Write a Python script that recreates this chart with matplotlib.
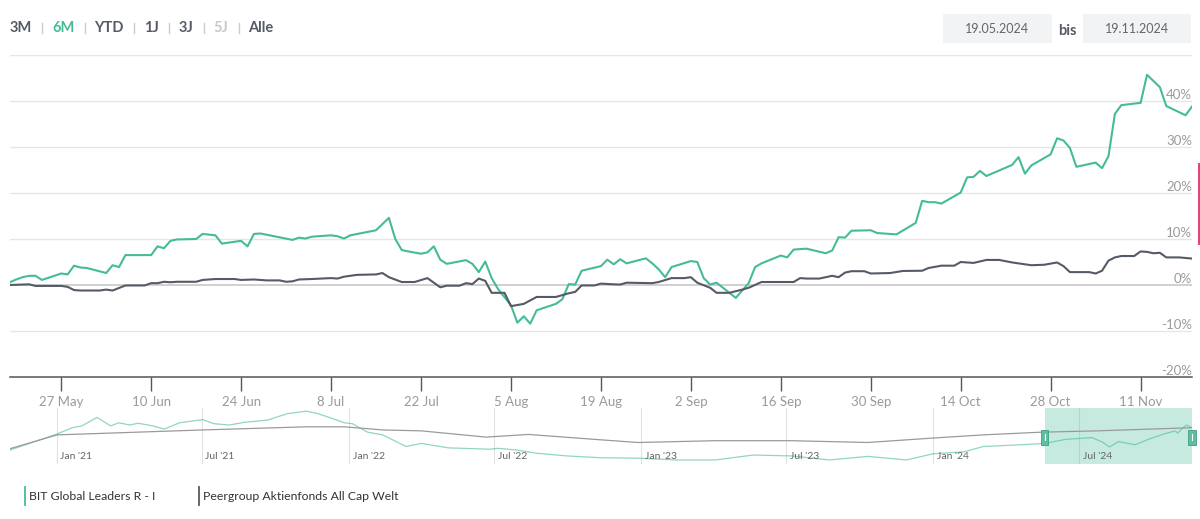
import matplotlib
matplotlib.use("Agg")
import matplotlib.pyplot as plt
from matplotlib.patches import Rectangle
from matplotlib.lines import Line2D
import pandas as pd

plt.rcParams['font.family'] = ['Lato', 'DejaVu Sans']

GREEN = '#45bb9a'
GRAY = '#555b66'

# --- data: 6 month performance in % ---
fund_dates = ["2024-05-19", "2024-05-20", "2024-05-21", "2024-05-22", "2024-05-23", "2024-05-24",
              "2024-05-27", "2024-05-28", "2024-05-29", "2024-05-30", "2024-05-31", "2024-06-03",
              "2024-06-04", "2024-06-05", "2024-06-06", "2024-06-10", "2024-06-11", "2024-06-12",
              "2024-06-13", "2024-06-14", "2024-06-17", "2024-06-18", "2024-06-20", "2024-06-21",
              "2024-06-24", "2024-06-25", "2024-06-26", "2024-06-27", "2024-07-02", "2024-07-03",
              "2024-07-04", "2024-07-05", "2024-07-08", "2024-07-09", "2024-07-10", "2024-07-11",
              "2024-07-15", "2024-07-17", "2024-07-18", "2024-07-19", "2024-07-20", "2024-07-22",
              "2024-07-23", "2024-07-24", "2024-07-25", "2024-07-26", "2024-07-29", "2024-07-30",
              "2024-07-31", "2024-08-01", "2024-08-02", "2024-08-03", "2024-08-05", "2024-08-06",
              "2024-08-07", "2024-08-08", "2024-08-09", "2024-08-12", "2024-08-13", "2024-08-14",
              "2024-08-15", "2024-08-16", "2024-08-19", "2024-08-20", "2024-08-21", "2024-08-22",
              "2024-08-23", "2024-08-26", "2024-08-27", "2024-08-28", "2024-08-29", "2024-08-30",
              "2024-09-02", "2024-09-03", "2024-09-04", "2024-09-05", "2024-09-06", "2024-09-09",
              "2024-09-11", "2024-09-12", "2024-09-13", "2024-09-16", "2024-09-17", "2024-09-18",
              "2024-09-20", "2024-09-23", "2024-09-24", "2024-09-25", "2024-09-26", "2024-09-27",
              "2024-09-30", "2024-10-01", "2024-10-04", "2024-10-07", "2024-10-08", "2024-10-09",
              "2024-10-10", "2024-10-11", "2024-10-14", "2024-10-15", "2024-10-16", "2024-10-17",
              "2024-10-18", "2024-10-22", "2024-10-23", "2024-10-24", "2024-10-25", "2024-10-28",
              "2024-10-29", "2024-10-30", "2024-10-31", "2024-11-01", "2024-11-04", "2024-11-05",
              "2024-11-06", "2024-11-07", "2024-11-08", "2024-11-11", "2024-11-12", "2024-11-14",
              "2024-11-15", "2024-11-18", "2024-11-19"]
fund_vals = [0.6, 1.2, 1.7, 2.0, 2.0, 1.1, 2.5, 2.3, 4.2, 3.8, 3.7, 2.6, 4.3, 3.9, 6.5, 6.5, 8.4, 8.0,
             9.6, 9.9, 10.0, 11.1, 10.8, 9.0, 9.6, 8.4, 11.1, 11.2, 9.8, 10.3, 10.1, 10.5, 10.8, 10.6,
             10.1, 10.8, 11.9, 14.6, 10.0, 7.6, 7.3, 6.8, 7.1, 8.4, 5.5, 4.6, 5.4, 4.6, 2.8, 5.1, 1.5,
             -0.9, -4.4, -8.2, -6.8, -8.4, -5.5, -4.1, -3.1, 0.2, 0.1, 3.1, 4.1, 5.5, 4.5, 5.6, 4.7,
             5.8, 4.7, 3.4, 1.7, 3.9, 5.2, 5.0, 1.5, 0.1, 0.5, -2.8, 0.4, 3.9, 4.7, 6.4, 6.0, 7.7, 7.9,
             6.9, 7.5, 10.4, 10.3, 11.8, 11.9, 11.3, 11.0, 13.5, 18.3, 18.0, 18.0, 17.7, 20.1, 23.4,
             23.5, 24.8, 23.7, 26.1, 27.8, 24.2, 26.0, 28.4, 31.9, 31.4, 29.8, 25.7, 26.6, 25.4, 28.0,
             37.2, 39.1, 39.6, 45.7, 43.0, 38.9, 36.9, 38.8]

peer_dates = ["2024-05-19", "2024-05-21", "2024-05-22", "2024-05-23", "2024-05-27", "2024-05-28",
              "2024-05-29", "2024-05-30", "2024-06-02", "2024-06-03", "2024-06-04", "2024-06-06",
              "2024-06-09", "2024-06-10", "2024-06-11", "2024-06-12", "2024-06-13", "2024-06-14",
              "2024-06-17", "2024-06-18", "2024-06-20", "2024-06-23", "2024-06-24", "2024-06-26",
              "2024-06-28", "2024-06-30", "2024-07-01", "2024-07-02", "2024-07-03", "2024-07-05",
              "2024-07-08", "2024-07-09", "2024-07-10", "2024-07-12", "2024-07-15", "2024-07-16",
              "2024-07-17", "2024-07-19", "2024-07-21", "2024-07-23", "2024-07-25", "2024-07-26",
              "2024-07-28", "2024-07-29", "2024-07-30", "2024-07-31", "2024-08-01", "2024-08-02",
              "2024-08-04", "2024-08-05", "2024-08-07", "2024-08-09", "2024-08-12", "2024-08-14",
              "2024-08-15", "2024-08-16", "2024-08-18", "2024-08-19", "2024-08-21", "2024-08-22",
              "2024-08-23", "2024-08-27", "2024-08-28", "2024-08-30", "2024-09-01", "2024-09-02",
              "2024-09-03", "2024-09-05", "2024-09-06", "2024-09-08", "2024-09-10", "2024-09-11",
              "2024-09-13", "2024-09-16", "2024-09-18", "2024-09-19", "2024-09-20", "2024-09-22",
              "2024-09-24", "2024-09-25", "2024-09-26", "2024-09-27", "2024-09-29", "2024-09-30",
              "2024-10-03", "2024-10-05", "2024-10-08", "2024-10-09", "2024-10-11", "2024-10-13",
              "2024-10-14", "2024-10-16", "2024-10-18", "2024-10-20", "2024-10-22", "2024-10-25",
              "2024-10-27", "2024-10-29", "2024-10-30", "2024-10-31", "2024-11-03", "2024-11-04",
              "2024-11-05", "2024-11-06", "2024-11-07", "2024-11-08", "2024-11-10", "2024-11-11",
              "2024-11-12", "2024-11-13", "2024-11-14", "2024-11-15", "2024-11-17", "2024-11-19"]
peer_vals = [0.0, 0.1, 0.15, -0.2, -0.2, -0.4, -1.1, -1.2, -1.2, -1.0, -1.2, -0.1, -0.1, 0.4, 0.4,
             0.7, 0.6, 0.7, 0.7, 1.1, 1.3, 1.3, 1.1, 1.2, 1.0, 1.0, 0.7, 0.8, 1.2, 1.3, 1.5, 1.4, 1.8,
             2.2, 2.3, 2.6, 1.7, 0.65, 0.65, 1.5, -0.5, -0.15, -0.15, 0.4, 0.2, 1.4, 0.9, -1.7, -1.7,
             -4.6, -4.1, -2.6, -2.6, -1.8, -1.5, -0.1, -0.1, 0.3, 0.15, 0.1, 0.5, 0.4, 0.65, 1.5, 1.5,
             1.7, 0.5, -0.6, -1.7, -1.7, -1.0, -0.6, 0.65, 0.65, 0.65, 1.5, 1.4, 1.4, 2.0, 1.7, 2.7,
             3.0, 3.0, 2.5, 2.6, 3.05, 3.1, 3.7, 4.2, 4.2, 5.0, 4.8, 5.45, 5.45, 4.9, 4.3, 4.4, 4.9,
             4.1, 2.8, 2.8, 2.5, 3.1, 5.3, 6.0, 6.3, 6.3, 7.3, 7.2, 6.9, 7.0, 6.0, 6.0, 5.75]

# navigator (long history, relative level)
nav_fund_dates = ["2020-11-03", "2021-01-01", "2021-01-20", "2021-02-01", "2021-02-20", "2021-03-09",
                  "2021-03-19", "2021-04-02", "2021-04-12", "2021-05-01", "2021-05-15", "2021-06-03",
                  "2021-07-02", "2021-07-16", "2021-08-04", "2021-08-23", "2021-09-21", "2021-10-15",
                  "2021-11-08", "2021-11-22", "2021-12-07", "2021-12-26", "2022-01-05", "2022-01-24",
                  "2022-02-12", "2022-03-13", "2022-04-01", "2022-05-05", "2022-06-26", "2022-07-06",
                  "2022-07-30", "2022-08-23", "2022-09-30", "2022-11-11", "2022-12-28", "2023-02-14",
                  "2023-04-03", "2023-05-21", "2023-07-08", "2023-08-24", "2023-10-11", "2023-11-28",
                  "2024-01-01", "2024-02-08", "2024-03-03", "2024-04-20", "2024-05-19", "2024-06-14",
                  "2024-07-17", "2024-07-31", "2024-08-08", "2024-08-19", "2024-09-09", "2024-09-27",
                  "2024-10-15", "2024-10-29", "2024-11-01", "2024-11-08", "2024-11-12", "2024-11-19"]
nav_fund_vals = [13, 49, 63, 67, 86, 67, 74, 69, 73, 67, 60, 74, 81, 72, 69, 75, 80, 94, 100, 95,
                 86, 74, 72, 53, 47, 21, 28, 18, 15, 17, 13, 6, 0, -4, -5, -9, -9, 2, 0, -9,
                 -1, -9, 5, 9, 21, 25, 28, 37, 41, 30, 20, 32, 25, 38, 49, 56, 51, 63, 69, 63]
nav_peer_dates = ["2020-11-03", "2021-01-01", "2021-07-02", "2021-11-08", "2021-12-26", "2022-02-12",
                  "2022-04-01", "2022-06-21", "2022-08-13", "2022-11-11", "2022-12-28", "2023-04-03",
                  "2023-07-08", "2023-10-11", "2024-01-01", "2024-03-03", "2024-05-14", "2024-07-24",
                  "2024-11-19"]
nav_peer_vals = [16, 47, 58, 65, 65, 58, 56, 42, 48, 36, 30, 34, 34, 30, 40, 47, 53, 56, 63]

x_tick_dates = ["2024-05-27", "2024-06-10", "2024-06-24", "2024-07-08", "2024-07-22", "2024-08-05",
                "2024-08-19", "2024-09-02", "2024-09-16", "2024-09-30", "2024-10-14", "2024-10-28",
                "2024-11-11"]
x_tick_labels = ["27 May", "10 Jun", "24 Jun", "8 Jul", "22 Jul", "5 Aug", "19 Aug", "2 Sep",
                 "16 Sep", "30 Sep", "14 Oct", "28 Oct", "11 Nov"]
y_ticks = [-20, -10, 0, 10, 20, 30, 40, 50]
y_tick_labels = ["-20%", "-10%", "0%", "10%", "20%", "30%", "40%", ""]

nav_tick_dates = ["2021-01-01", "2021-07-01", "2022-01-01", "2022-07-01", "2023-01-01",
                  "2023-07-01", "2024-01-01", "2024-07-01"]
nav_tick_labels = ["Jan '21", "Jul '21", "Jan '22", "Jul '22", "Jan '23", "Jul '23", "Jan '24", "Jul '24"]

range_buttons = ["3M", "6M", "YTD", "1J", "3J", "5J", "Alle"]
range_active = "6M"
range_disabled = "5J"
date_from = "19.05.2024"
date_to = "19.11.2024"
start, end = "2024-05-19", "2024-11-19"
series_names = ["BIT Global Leaders R - I", "Peergroup Aktienfonds All Cap Welt"]

W, H = 1200, 519
fig = plt.figure(figsize=(W / 100, H / 100), dpi=100)


def fx(x):
    return x / W


def fy(y):
    return 1 - y / H


# --- main chart ---
left, right, top, bottom = 9.8, 1192, 55, 377
ax = fig.add_axes([fx(left), fy(bottom), (right - left) / W, (bottom - top) / H])
ax.set_xlim(pd.Timestamp(start), pd.Timestamp(end))
ax.set_ylim(-20, 50)
for v in y_ticks[1:]:
    ax.axhline(v, color='#c8c8c8' if v == 0 else '#e6e6e6', lw=1.2 if v == 0 else 1, zorder=0)
for s in ['top', 'left', 'right']:
    ax.spines[s].set_visible(False)
ax.spines['bottom'].set_color('#555555')
ax.spines['bottom'].set_linewidth(1.1)
ax.set_yticks([])
ax.set_xticks(pd.to_datetime(x_tick_dates))
ax.set_xticklabels(x_tick_labels)
ax.tick_params(axis='x', direction='out', length=10, width=1, color='#555555',
               labelcolor='#9a9a9a', labelsize=9.5, pad=4)
for v, lab in zip(y_ticks, y_tick_labels):
    ax.annotate(lab, xy=(1, v), xycoords=('axes fraction', 'data'), xytext=(0, 1.5),
                textcoords='offset points', ha='right', va='baseline', color='#9a9a9a', fontsize=9.5)

ax.plot(pd.to_datetime(fund_dates), fund_vals, color=GREEN, lw=1.5, zorder=3)
ax.plot(pd.to_datetime(peer_dates), peer_vals, color=GRAY, lw=1.5, zorder=4)

# --- navigator ---
nav_top, nav_bottom = 408, 464
nax = fig.add_axes([fx(left), fy(nav_bottom), (right - left) / W, (nav_bottom - nav_top) / H])
nax.set_xlim(pd.Timestamp(nav_fund_dates[0]), pd.Timestamp(end))
nax.set_ylim(-18, 107)
nax.axis('off')
for d, lab in zip(pd.to_datetime(nav_tick_dates), nav_tick_labels):
    nax.axvline(d, color='#e2e2e2', lw=0.8, zorder=0)
    nax.annotate(lab, xy=(d, 0.14), xycoords=('data', 'axes fraction'), xytext=(2.5, 0),
                 textcoords='offset points', ha='left', va='center', color='#666666', fontsize=7.5)
nax.axvspan(pd.Timestamp(start), pd.Timestamp(end), color=GREEN, alpha=0.3, lw=0, zorder=1)
nax.plot(pd.to_datetime(nav_fund_dates), nav_fund_vals, color=GREEN, alpha=0.6, lw=0.9, zorder=2)
nax.plot(pd.to_datetime(nav_peer_dates), nav_peer_vals, color='#9a9a9a', lw=0.9, zorder=2)
for d in [pd.Timestamp(start), pd.Timestamp(end)]:
    nax.add_patch(Rectangle((d - pd.Timedelta(days=4.5), 0.345), pd.Timedelta(days=9), 0.27,
                            transform=nax.get_xaxis_transform(), facecolor='#5cbf9f',
                            edgecolor='#3f9f82', lw=0.6, zorder=5, clip_on=False))
    nax.plot([d, d], [0.42, 0.54], transform=nax.get_xaxis_transform(), color='white',
             lw=0.8, zorder=6, clip_on=False)

# --- range selector ---
renderer = fig.canvas.get_renderer()
x = 10
for i, lab in enumerate(range_buttons):
    col = GREEN if lab == range_active else ('#c8c8c8' if lab == range_disabled else '#555a66')
    t = fig.text(fx(x), fy(28), lab, ha='left', va='center', fontsize=10.5, fontweight='bold', color=col)
    w = t.get_window_extent(renderer).width
    x += w
    if i < len(range_buttons) - 1:
        fig.add_artist(Line2D([fx(x + 10)] * 2, [fy(23), fy(33)], color='#cccccc', lw=1))
        x += 20

# --- date inputs ---
for x0, x1, lab in [(943, 1052, date_from), (1083, 1191, date_to)]:
    fig.add_artist(Rectangle((fx(x0), fy(43)), (x1 - x0) / W, 29 / H, facecolor='#f2f3f5',
                             edgecolor='none', transform=fig.transFigure))
    fig.text(fx((x0 + x1) / 2), fy(29), lab, ha='center', va='center', fontsize=9, color='#666666')
fig.text(fx(1067.5), fy(31), "bis", ha='center', va='center', fontsize=10.5, fontweight='bold',
         color='#555a66')

# --- legend ---
for xm, name, col in [(25, series_names[0], GREEN), (199, series_names[1], GRAY)]:
    fig.add_artist(Line2D([fx(xm)] * 2, [fy(487), fy(505)], color=col, lw=1.3))
    fig.text(fx(xm + 4), fy(496), name, ha='left', va='center', fontsize=8.8, color='#333333')

# cut-off element at the right border
fig.add_artist(Rectangle((fx(1198), fy(245)), 2 / W, 82 / H, facecolor='#e0457b', edgecolor='none',
                         transform=fig.transFigure))

fig.savefig("out.png", dpi=100)
